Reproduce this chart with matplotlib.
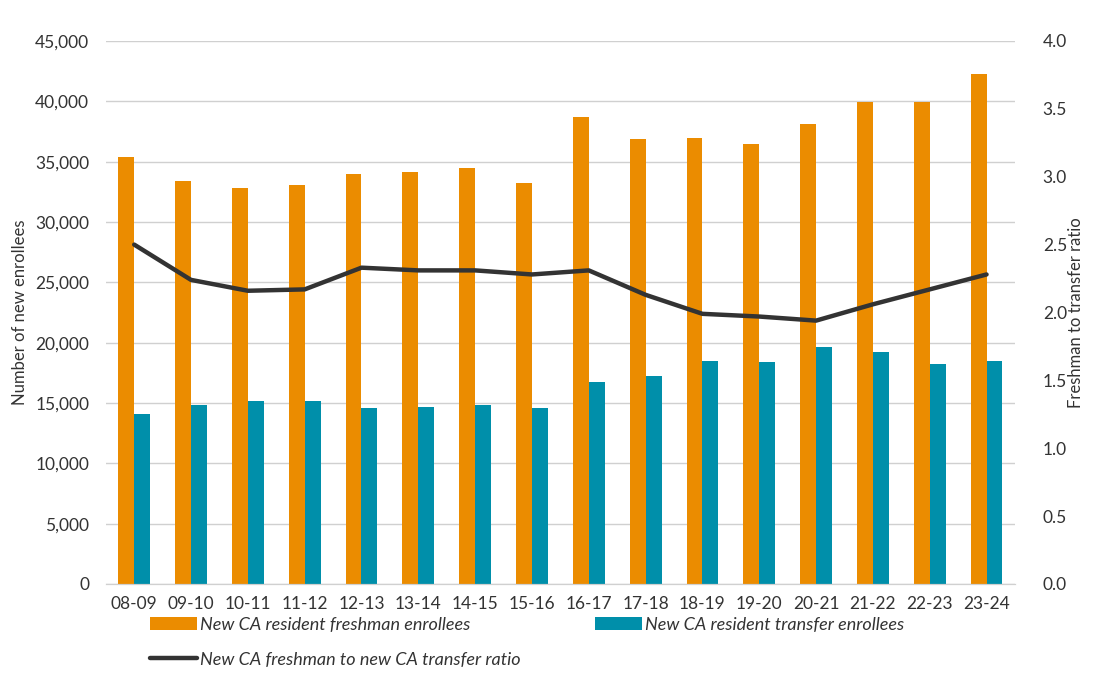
import matplotlib
matplotlib.use("Agg")
from matplotlib import pyplot as plt
import numpy as np

plt.rcParams['font.family'] = ['Lato', 'DejaVu Sans']

# 학년도
years = ["08-09", "09-10", "10-11", "11-12", "12-13", "13-14", "14-15", "15-16",
         "16-17", "17-18", "18-19", "19-20", "20-21", "21-22", "22-23", "23-24"]
freshman = [35390, 33400, 32820, 33070, 33980, 34140, 34470, 33230,
            38700, 36880, 36960, 36460, 38120, 39950, 39950, 42270]
transfer = [14090, 14830, 15170, 15170, 14590, 14670, 14830, 14590,
            16740, 17240, 18480, 18400, 19640, 19230, 18230, 18480]
ratio = [2.50, 2.24, 2.16, 2.17, 2.33, 2.31, 2.31, 2.28,
         2.31, 2.13, 1.99, 1.97, 1.94, 2.06, 2.17, 2.28]

fig = plt.figure(figsize=(11.02, 6.83), dpi=100)
ax = fig.add_axes([0.096, 0.145, 0.825, 0.795])
ax2 = ax.twinx()

x = np.arange(len(years))
w = 0.28
b1 = ax.bar(x - w / 2, freshman, width=w, color="#EB8C00", zorder=2,
            label="New CA resident freshman enrollees")
b2 = ax.bar(x + w / 2, transfer, width=w, color="#008FAA", zorder=2,
            label="New CA resident transfer enrollees")
ln, = ax2.plot(x, ratio, color="#333333", linewidth=3.2, solid_capstyle="round",
               label="New CA freshman to new CA transfer ratio")

ax.set_xlim(-0.5, len(years) - 0.5)
ax.set_ylim(0, 45000)
ax.set_yticks(range(0, 45001, 5000))
ax.set_yticklabels([f"{v:,}" for v in range(0, 45001, 5000)])
ax2.set_ylim(0, 4.0)
ax2.set_yticks(np.arange(0, 4.01, 0.5))
ax2.set_yticklabels([f"{v:.1f}" for v in np.arange(0, 4.01, 0.5)])
ax.set_xticks(x)
ax.set_xticklabels(years)

ax.grid(axis="y", color="#D0D0D0", linewidth=1, zorder=0)
ax.set_axisbelow(True)
for a in (ax, ax2):
    for s in ("top", "left", "right"):
        a.spines[s].set_visible(False)
    a.spines["bottom"].set_color("#D0D0D0")
    a.tick_params(length=0, labelsize=12.5, labelcolor="#333333")
ax.tick_params(axis="y", pad=12)
ax2.tick_params(axis="y", pad=20)
ax.tick_params(axis="x", pad=9)

ax.set_ylabel("Number of new enrollees", fontsize=12, color="#333333", labelpad=5)
ax2.set_ylabel("Freshman to transfer ratio", fontsize=12, color="#333333", labelpad=1)

fig.legend(handles=[b1, ln, b2], loc="upper left", bbox_to_anchor=(0.121, 0.121),
           ncol=2, frameon=False, handlelength=2.6, handleheight=0.8,
           labelspacing=1.05, columnspacing=4.1, handletextpad=0.2,
           prop={"style": "italic", "size": 13}, labelcolor="#333333")

fig.savefig("out.png", dpi=100)
